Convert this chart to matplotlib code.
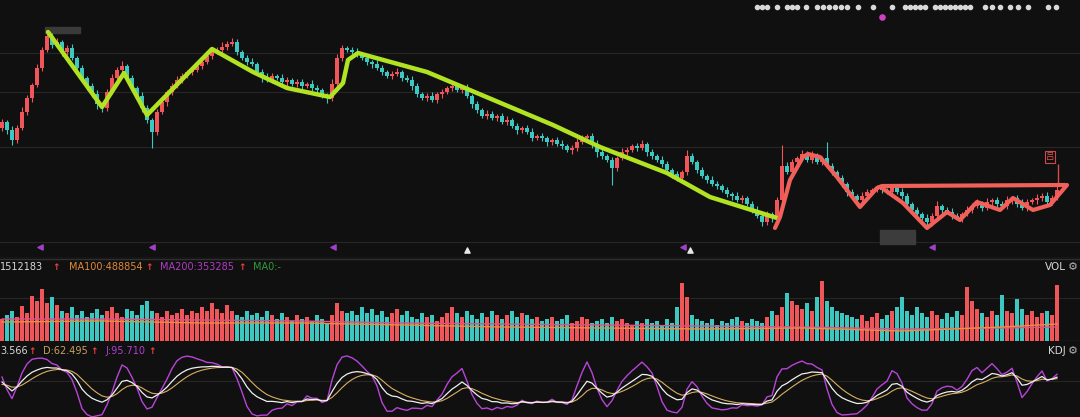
import numpy as np
import matplotlib
matplotlib.use('Agg')
import matplotlib.pyplot as plt
from matplotlib.patches import Rectangle

plt.rcParams['font.family'] = ['DejaVu Sans', 'Noto Sans CJK SC']

# 收盘价（按K线顺序）
open0 = 17.2
close = [17.8, 17.0, 16.0, 17.2, 18.8, 20.2, 21.5, 23.2, 25.0, 26.4,
         25.5, 25.8, 24.8, 25.2, 24.2, 23.2, 22.2, 21.4, 20.6, 19.6,
         19.2, 20.8, 22.2, 23.0, 23.4, 22.2, 21.2, 20.4, 19.2, 18.0,
         16.8, 18.8, 19.8, 20.8, 21.4, 22.0, 22.4, 22.8, 23.0, 23.4,
         23.8, 24.4, 24.8, 25.0, 25.3, 25.6, 25.8, 24.8, 24.2, 23.8,
         23.6, 22.8, 22.2, 22.0, 22.4, 22.2, 21.8, 22.0, 21.6, 21.8,
         21.4, 21.6, 21.2, 21.0, 20.4, 20.2, 21.6, 24.2, 25.2, 25.0,
         24.8, 24.6, 24.2, 23.8, 23.6, 23.2, 22.8, 22.4, 22.6, 22.8,
         22.2, 22.0, 21.4, 20.6, 20.2, 20.4, 20.0, 20.6, 20.8, 21.2,
         21.4, 21.0, 21.2, 20.4, 19.6, 19.0, 18.4, 18.6, 18.2, 18.4,
         17.8, 18.0, 17.4, 17.0, 17.2, 16.8, 16.2, 16.4, 16.2, 15.8,
         16.0, 15.6, 15.4, 15.0, 15.2, 15.8, 16.2, 16.4, 15.6, 14.8,
         14.4, 14.0, 13.2, 14.2, 14.8, 15.0, 15.4, 15.2, 15.6, 14.8,
         14.4, 14.0, 13.6, 13.0, 12.6, 12.2, 12.8, 14.4, 13.8, 13.0,
         12.4, 12.0, 11.6, 11.4, 11.0, 10.6, 10.4, 10.0, 10.2, 9.6,
         9.0, 8.4, 7.8, 8.6, 8.2, 10.0, 13.4, 12.8, 13.8, 14.2,
         14.6, 14.0, 14.4, 13.8, 14.2, 13.4, 12.8, 12.2, 11.6, 10.8,
         10.4, 10.0, 10.4, 10.8, 11.0, 11.2, 11.0, 10.8, 11.2, 10.8,
         10.4, 9.6, 9.0, 8.6, 8.2, 7.8, 8.4, 9.4, 9.0, 8.8,
         8.4, 8.2, 8.6, 9.0, 9.4, 9.6, 9.2, 9.8, 10.0, 9.6,
         9.4, 10.0, 10.2, 9.6, 9.2, 9.8, 10.0, 10.2, 10.4, 9.8,
         10.2, 11.0]
# 上下影线长度（单位0.1）
wick_up = [3, 2, 4, 3, 5, 3, 2, 4, 3, 6,
           3, 4, 2, 3, 4, 2, 3, 2, 3, 4,
           2, 3, 4, 3, 5, 2, 3, 2, 4, 3,
           2, 3, 4, 2, 3, 4, 3, 2, 3, 4,
           3, 4, 2, 3, 5, 3, 4, 3, 2, 3,
           4, 2, 3, 5, 3, 2, 4, 3, 2, 3,
           3, 2, 4, 3, 2, 3, 5, 4, 3, 2,
           3, 4, 2, 3, 2, 4, 3, 2, 3, 4,
           2, 3, 4, 3, 2, 3, 4, 2, 3, 2,
           3, 2, 3, 4, 2, 3, 2, 4, 3, 2,
           3, 4, 2, 3, 2, 3, 4, 2, 3, 2,
           2, 3, 4, 2, 3, 4, 3, 2, 3, 4,
           3, 2, 3, 2, 4, 3, 2, 3, 4, 2,
           3, 2, 4, 3, 2, 3, 2, 6, 3, 2,
           3, 2, 4, 3, 2, 3, 2, 4, 3, 2,
           3, 4, 2, 3, 2, 3, 21, 4, 3, 2,
           4, 3, 5, 3, 2, 16, 3, 2, 3, 2,
           3, 2, 4, 3, 2, 3, 4, 2, 3, 2,
           4, 3, 2, 3, 2, 4, 3, 5, 2, 3,
           4, 3, 2, 4, 3, 5, 3, 4, 2, 3,
           3, 4, 2, 3, 5, 3, 2, 4, 3, 4,
           3, 6]
wick_dn = [3, 4, 5, 3, 2, 3, 4, 2, 3, 2,
           3, 2, 4, 3, 2, 3, 2, 4, 3, 5,
           4, 3, 2, 3, 2, 4, 3, 2, 4, 3,
           16, 3, 2, 4, 3, 2, 3, 2, 3, 2,
           3, 2, 3, 2, 4, 3, 2, 3, 2, 3,
           2, 3, 4, 2, 3, 2, 3, 4, 2, 3,
           3, 2, 3, 4, 2, 5, 3, 2, 3, 2,
           2, 3, 2, 3, 4, 2, 3, 2, 3, 2,
           3, 2, 4, 3, 2, 3, 2, 3, 4, 2,
           3, 2, 3, 2, 4, 3, 2, 3, 2, 3,
           2, 3, 2, 4, 3, 2, 3, 2, 3, 4,
           3, 2, 3, 2, 4, 3, 2, 3, 4, 5,
           3, 2, 17, 3, 2, 3, 2, 3, 2, 4,
           3, 2, 3, 2, 4, 3, 2, 3, 2, 3,
           2, 3, 2, 3, 2, 3, 4, 2, 3, 2,
           3, 2, 4, 3, 4, 6, 3, 2, 3, 2,
           3, 2, 3, 2, 3, 2, 3, 2, 3, 4,
           3, 2, 3, 2, 3, 2, 3, 2, 3, 2,
           3, 2, 4, 3, 2, 3, 4, 2, 3, 2,
           3, 2, 4, 2, 3, 2, 3, 2, 4, 3,
           2, 3, 4, 3, 2, 3, 2, 4, 3, 2,
           3, 2]
# 成交量
vol = [22, 26, 30, 24, 35, 28, 45, 40, 52, 38,
       44, 36, 30, 28, 34, 26, 30, 24, 28, 32,
       26, 30, 34, 28, 24, 32, 30, 26, 36, 40,
       30, 28, 24, 30, 26, 28, 32, 26, 30, 28,
       34, 30, 38, 32, 28, 36, 30, 26, 24, 30,
       26, 28, 24, 30, 26, 22, 28, 24, 20, 26,
       22, 24, 20, 26, 22, 18, 26, 38, 30, 28,
       30, 26, 34, 28, 32, 26, 30, 24, 28, 32,
       26, 30, 24, 22, 28, 24, 26, 20, 24, 28,
       34, 28, 24, 30, 26, 22, 28, 24, 30, 26,
       22, 26, 30, 24, 28, 26, 22, 24, 20, 22,
       24, 20, 22, 26, 18, 20, 24, 22, 18, 20,
       22, 18, 24, 20, 22, 18, 16, 20, 18, 22,
       18, 20, 16, 22, 18, 34, 58, 44, 26, 22,
       20, 18, 22, 16, 20, 18, 22, 24, 20, 18,
       22, 20, 18, 24, 30, 26, 34, 48, 40, 36,
       32, 38, 30, 44, 60, 40, 34, 30, 28, 26,
       24, 22, 26, 20, 24, 28, 22, 26, 30, 34,
       44, 30, 26, 34, 28, 24, 30, 26, 22, 28,
       24, 30, 26, 54, 40, 32, 28, 24, 30, 26,
       46, 30, 28, 42, 32, 26, 30, 24, 28, 30,
       26, 56]
# 成交量均线
ma_idx = [0, 20, 40, 60, 80, 100, 120, 140, 160, 180, 200, 211]
ma200_vol = [22, 22, 21, 20, 18, 17, 16, 15, 14, 12, 13, 14]
ma100_vol = [19, 20, 18, 18, 16, 14, 13, 12, 13, 10, 14, 17]

# 手绘趋势线
green_x = [9.2, 20.0, 24.4, 29.0, 42.0, 50.2, 57.0, 65.6, 68.2, 69.2, 71.2, 85.0, 110.2, 119.6, 133.0, 141.6, 155.0]
green_y = [26.8, 19.3, 22.7, 18.5, 25.1, 22.8, 21.2, 20.3, 21.7, 24.0, 24.7, 22.8, 17.5, 15.3, 12.7, 10.3, 8.2]
red_x = [154.6, 155.6, 157.6, 160.2, 161.2, 163.6, 167.0, 171.6, 175.0, 176.0, 212.6]
red_y = [7.2, 8.3, 12.0, 14.3, 14.6, 14.3, 12.3, 9.3, 11.2, 11.4, 11.5]
wave_x = [176.0, 180.2, 185.0, 189.0, 191.6, 195.0, 199.6, 202.2, 206.2, 209.6, 213.0]
wave_y = [11.2, 9.7, 7.2, 8.8, 8.0, 9.8, 9.0, 10.2, 9.0, 9.5, 11.5]

# 标记
flag_x = [7.6, 30.0, 66.2, 136.2, 186.0]
tri_x = [93.0, 137.6]
dot_x = [151.0, 152.0, 153.0, 155.0, 157.0, 158.0, 159.0, 160.8, 163.0, 164.2, 165.4, 166.6,
         167.8, 169.0, 171.2, 174.2, 178.0, 180.6, 181.6, 182.6, 183.6, 184.6, 186.6, 187.6,
         188.6, 189.6, 190.6, 191.6, 192.6, 193.6, 196.6, 198.0, 199.6, 201.6, 203.2, 205.2,
         209.2, 210.8]
pink_dot_x = [176.0]

bg = '#101010'
grid_c = '#262626'
up_c = '#f0555a'
dn_c = '#3cc8c0'

n = len(close)
x = np.arange(n)
c = np.array(close)
o = np.r_[open0, c[:-1]]
hi = np.maximum(o, c) + np.array(wick_up) / 10
lo = np.minimum(o, c) - np.array(wick_dn) / 10
colors = [up_c if c[i] >= o[i] else dn_c for i in range(n)]

# KDJ
K, D = [], []
k_prev, d_prev = 50.0, 50.0
for i in range(n):
    llv = lo[max(0, i - 8):i + 1].min()
    hhv = hi[max(0, i - 8):i + 1].max()
    rsv = (c[i] - llv) / (hhv - llv) * 100
    k_prev = 2 / 3 * k_prev + rsv / 3
    d_prev = 2 / 3 * d_prev + k_prev / 3
    K.append(k_prev)
    D.append(d_prev)
K = np.array(K)
D = np.array(D)
J = 3 * K - 2 * D

W, H = 1080, 417
fig = plt.figure(figsize=(W / 100, H / 100), dpi=100, facecolor=bg)
ax1 = fig.add_axes([0, 1 - 258 / H, 1, 258 / H])
ax2 = fig.add_axes([0, (H - 341) / H, 1, 83 / H])
ax3 = fig.add_axes([0, 0, 1, 76 / H])
xlim = (-0.4, W / 5 - 0.4)
for a in (ax1, ax2, ax3):
    a.set_facecolor(bg)
    a.set_xlim(*xlim)
    for s in a.spines.values():
        s.set_visible(False)
    a.set_xticks([])
    a.set_yticks([])

# 主图
ax1.set_ylim(4.2, 30)
for gy in (24.7, 20.8, 15.3, 5.8):
    ax1.axhline(gy, color=grid_c, lw=0.8, zorder=0)
ax1.axhline(4.25, color='#303030', lw=1, zorder=0)
ax1.vlines(x, lo, hi, colors=colors, lw=0.8, zorder=2)
body = np.where(np.abs(c - o) < 0.08, 0.08, c - o)
ax1.bar(x, body, bottom=o, width=0.62, color=colors, zorder=3)
ax1.plot(green_x, green_y, color='#b2e322', lw=3.2, solid_joinstyle='round', solid_capstyle='round', zorder=5)
ax1.plot(red_x, red_y, color='#f2605a', lw=3.0, solid_joinstyle='round', solid_capstyle='round', zorder=5)
ax1.plot(wave_x, wave_y, color='#f2605a', lw=3.0, solid_joinstyle='round', solid_capstyle='round', zorder=5)
ax1.scatter(flag_x, [5.3] * len(flag_x), marker='<', s=14, color='#a040c8', zorder=4)
ax1.scatter(tri_x, [5.0] * len(tri_x), marker='^', s=14, color='#e8e8e8', zorder=4)
ax1.scatter(dot_x, [29.3] * len(dot_x), marker='o', s=9, color='#d8d8d8', zorder=4, clip_on=False)
ax1.scatter(pink_dot_x, [28.3], marker='o', s=14, color='#d040c0', zorder=4)
# 打码的标签
ax1.add_patch(Rectangle((8.6, 26.7), 7, 0.6, color='#3a3a3a', zorder=1))
ax1.add_patch(Rectangle((175.6, 5.6), 7, 1.4, color='#3c3c3c', zorder=1))
ax1.vlines(211.2, 11.5, 13.6, color='#d84a4a', lw=1, zorder=4)
ax1.text(209.6, 14.3, '吕', color='#e05050', fontsize=6, ha='center', va='center',
         bbox=dict(boxstyle='square,pad=0.15', fc=bg, ec='#d04848', lw=0.8), zorder=6)

# 成交量
ax2.set_ylim(0, 83)
ax2.axhline(43, color=grid_c, lw=0.8, zorder=0)
ax2.axhline(82.5, color='#303030', lw=1, zorder=0)
ax2.axhline(0.3, color='#303030', lw=1, zorder=0)
ax2.bar(x, vol, width=0.7, color=colors, zorder=2)
ax2.plot(ma_idx, ma200_vol, color='#e0508a', lw=1, zorder=3)
ax2.plot(ma_idx, ma100_vol, color='#e8903a', lw=1, zorder=3)

# KDJ
ax3.set_ylim(-20, 150)
ax3.axhline(60, color=grid_c, lw=0.8, zorder=0)
ax3.plot(x, J, color='#b844d8', lw=1.0, zorder=2)
ax3.plot(x, D, color='#d8b060', lw=0.8, zorder=3)
ax3.plot(x, K, color='#f0f0f0', lw=0.9, zorder=4)


def ftext(px, py, s, color, size=7.0, **kw):
    fig.text(px / W, 1 - py / H, s, color=color, fontsize=size, va='center', ha='left', **kw)


ftext(0, 267, '1512183', '#d8d8d8')
ftext(52, 268, '↑', '#f04040', size=6.5, weight='bold')
ftext(69, 267, 'MA100:488854', '#e0883a')
ftext(145, 268, '↑', '#f04040', size=6.5, weight='bold')
ftext(160, 267, 'MA200:353285', '#b03cc4')
ftext(238, 268, '↑', '#f04040', size=6.5, weight='bold')
ftext(253, 267, 'MA0:-', '#2f9a3c')
ftext(1045, 267, 'VOL', '#d8d8d8', size=7.5)
ftext(1068, 267, '⚙', '#b0b0b0', size=8)

ftext(0, 351, '3.566', '#d8d8d8')
ftext(28, 352, '↑', '#f04040', size=6.5, weight='bold')
ftext(43, 351, 'D:62.495', '#c8a060')
ftext(90, 352, '↑', '#f04040', size=6.5, weight='bold')
ftext(105, 351, 'J:95.710', '#b040d0')
ftext(148, 352, '↑', '#f04040', size=6.5, weight='bold')
ftext(1048, 351, 'KDJ', '#d8d8d8', size=7.5)
ftext(1068, 351, '⚙', '#b0b0b0', size=8)

fig.savefig('out.png', dpi=100, facecolor=bg)
